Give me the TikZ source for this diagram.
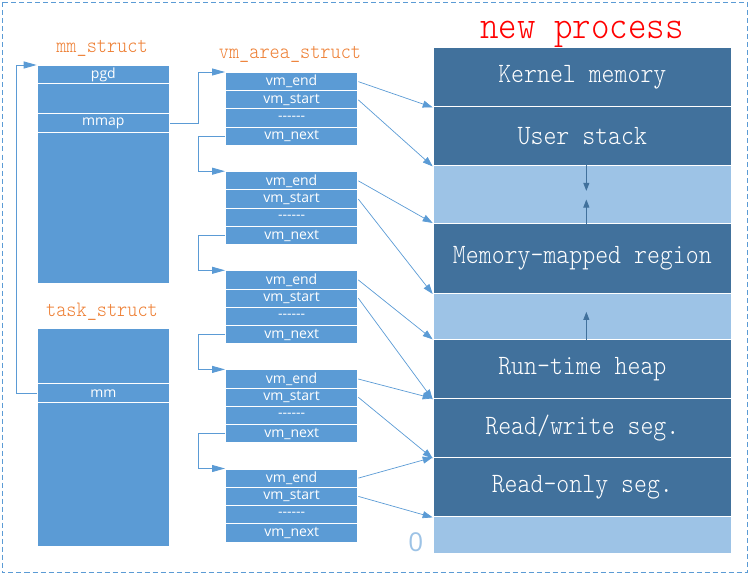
\documentclass[tikz,border=0pt]{standalone}
\usepackage{fontspec}
\newfontfamily\monof[FakeStretch=0.88]{lmmonolt10-regular.otf}
\newfontfamily\sansf{Open Sans}
\usetikzlibrary{arrows.meta}
\definecolor{cblue}{HTML}{5B9BD5}
\definecolor{cdark}{HTML}{41719C}
\definecolor{clight}{HTML}{9DC3E6}
\definecolor{corange}{HTML}{ED7D31}
\tikzset{
 cell/.style={draw=white, line width=1pt, fill=cblue, text=white, font=\sansf\fontsize{14}{15}\selectfont, inner sep=0pt, anchor=north west, minimum width=132.3pt},
 seg/.style={draw=white, line width=1pt, fill=cdark, text=white, font=\monof\fontsize{28}{30}\selectfont, inner sep=0pt, anchor=north west, minimum width=298.3pt},
 gapseg/.style={seg, fill=clight},
 lbl/.style={text=corange, font=\monof\fontsize{22}{24}\selectfont, inner sep=0pt, anchor=base},
 link/.style={draw=cblue, line width=0.9pt, -{Triangle[length=13pt,width=7pt]}},
 ptr/.style={draw=cblue, line width=0.7pt, -{Triangle[length=10pt,width=7pt]}},
 growarrow/.style={draw=cdark, line width=0.9pt, -{Triangle[length=8pt,width=6pt]}},
}
\begin{document}
\begin{tikzpicture}[x=1pt,y=-1pt]
\path[use as bounding box] (0,0) rectangle (752,575);
\draw[cblue, line width=1pt, dash pattern=on 5pt off 3pt] (2.5,2.5) rectangle (747,572.5);

% titles
\node[lbl] (lmm) at (102,53) {mm\_struct};
\node[lbl] (lvma) at (290,59) {vm\_area\_struct};
\node[lbl] (ltask) at (102,316) {task\_struct};
\node[text=red, font=\monof\fontsize{40}{42}\selectfont, inner sep=0pt, anchor=base] (title) at (582,39) {new process};

% mm_struct
\node[cell, minimum height=18.5pt] (pgd) at (36.7,65) {pgd};
\node[cell, minimum height=29.8pt] (mmb) at (36.7,83.5) {};
\node[cell, minimum height=18.4pt] (mmap) at (36.7,113.3) {mmap};
\node[cell, minimum height=151pt] (mmr) at (36.7,131.7) {};

% task_struct
\node[cell, minimum height=55.6pt] (tt) at (36.7,327.7) {};
\node[cell, minimum height=19pt] (mm) at (36.7,383.3) {mm};
\node[cell, minimum height=143.4pt] (tr) at (36.7,402.3) {};

% vm_area_structs
\foreach \i/\y in {1/72,2/171.2,3/270.3,4/369.4,5/468.5}{
 \node[cell, minimum height=18.25pt] (v\i e) at (225,\y) {vm\_end};
 \node[cell, minimum height=18.25pt] (v\i s) at (225,{\y+18.25}) {vm\_start};
 \node[cell, minimum height=18.25pt] (v\i d) at (225,{\y+36.5}) {------};
 \node[cell, minimum height=18.25pt] (v\i n) at (225,{\y+54.75}) {vm\_next};
}

% memory layout
\node[seg, minimum height=59.7pt] (kern) at (432.7,46.7) {Kernel memory};
\node[seg, minimum height=59pt] (stack) at (432.7,106.4) {User stack};
\node[gapseg, minimum height=57.6pt] (gap1) at (432.7,165.4) {};
\node[seg, minimum height=70pt] (mmrg) at (432.7,223) {Memory-mapped region};
\node[gapseg, minimum height=46.4pt] (gap2) at (432.7,293) {};
\node[seg, minimum height=59pt] (heap) at (432.7,339.4) {Run-time heap};
\node[seg, minimum height=59pt] (rw) at (432.7,398.4) {Read/write seg.};
\node[seg, minimum height=59pt] (ro) at (432.7,457.4) {Read-only seg.};
\node[gapseg, minimum height=37pt] (gap3) at (432.7,516.4) {};
\node[text=clight, font=\sansf\fontsize{26}{28}\selectfont, inner sep=0pt, anchor=base] (zero) at (415.7,551.5) {0};

% growth arrows
\draw[growarrow] ([xshift=4pt]gap1.north) -- ++(0,25.5);
\draw[growarrow] ([xshift=4pt]gap1.south) -- ++(0,-24.5);
\draw[growarrow] ([xshift=4pt]gap2.south) -- ++(0,-28.5);

% list links
\draw[link] (mm.west) -- ++(-20.2,0) |- (pgd.north west);
\draw[link] (mmap.east) -- ++(28.7,0) |- (v1e.north west);
\foreach \a/\b in {1/2,2/3,3/4,4/5}{
 \draw[link] (v\a n.west) -- ++(-26.3,0) |- (v\b e.north west);
}

% pointers to layout
\draw[ptr] (v1e.east) -- (kern.south west);
\draw[ptr] (v1s.east) -- (stack.south west);
\draw[ptr] (v2e.east) -- (mmrg.north west);
\draw[ptr] (v2s.east) -- (mmrg.south west);
\draw[ptr] (v3e.east) -- (heap.north west);
\draw[ptr] (v3s.east) -- (heap.south west);
\draw[ptr] (v4e.east) -- (rw.north west);
\draw[ptr] (v4s.east) -- (rw.south west);
\draw[ptr] (v5e.east) -- (ro.north west);
\draw[ptr] (v5s.east) -- (ro.south west);
\end{tikzpicture}
\end{document}
